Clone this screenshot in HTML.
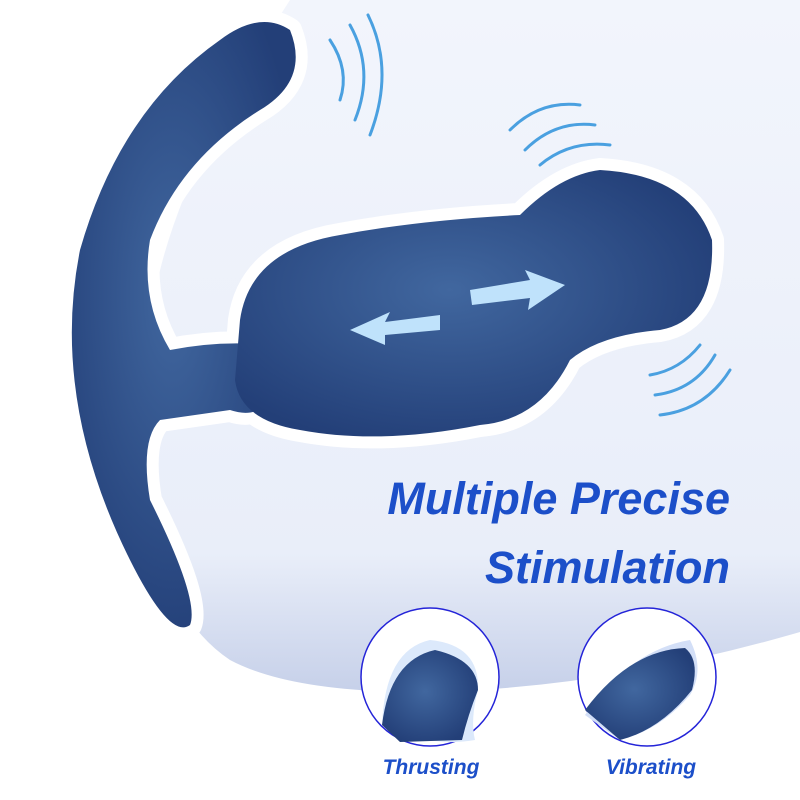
<!DOCTYPE html>
<html><head><style>
html,body{margin:0;padding:0;background:#fff}
svg{display:block}
text{font-family:"Liberation Sans",sans-serif;font-weight:bold;font-style:italic;fill:#1c4fc9}
</style></head><body>
<svg width="800" height="800" viewBox="0 0 800 800">
<defs>
<linearGradient id="bg" x1="0" y1="0" x2="0" y2="1"><stop offset="0" stop-color="#f2f5fc"/><stop offset="0.8" stop-color="#e9eef9"/><stop offset="1" stop-color="#c6d0e9"/></linearGradient>
<radialGradient id="dev" cx="0.45" cy="0.45" r="0.6"><stop offset="0" stop-color="#41679f"/><stop offset="1" stop-color="#233f78"/></radialGradient>
</defs>
<path d="M290 0 L800 0 L800 632 Q600 690 420 692 Q290 692 230 660 Q170 620 150 520 Q130 450 150 330 Q160 200 290 0 Z" fill="url(#bg)"/>
<g fill="#fff" stroke="#fff" stroke-width="24" stroke-linejoin="round">
<path d="M240 320 Q250 250 340 235 Q420 220 520 215 Q560 175 600 170 Q690 175 712 240 Q715 320 660 330 Q600 335 570 360 Q540 420 480 425 Q380 445 300 430 Q240 420 235 380 Z"/>
<path d="M290 30 Q260 10 220 40 Q120 110 80 250 Q50 400 130 560 Q170 640 190 625 Q200 600 150 500 Q140 440 160 420 L230 410 Q260 420 270 395 L270 345 Q220 340 170 350 Q140 300 150 240 Q180 160 260 110 Q310 80 290 30 Z"/>
</g>
<path d="M290 30 Q260 10 220 40 Q120 110 80 250 Q50 400 130 560 Q170 640 190 625 Q200 600 150 500 Q140 440 160 420 L230 410 Q260 420 270 395 L270 345 Q220 340 170 350 Q140 300 150 240 Q180 160 260 110 Q310 80 290 30 Z" fill="url(#dev)"/>
<path d="M240 320 Q250 250 340 235 Q420 220 520 215 Q560 175 600 170 Q690 175 712 240 Q715 320 660 330 Q600 335 570 360 Q540 420 480 425 Q380 445 300 430 Q240 420 235 380 Z" fill="url(#dev)"/>
<g fill="none" stroke="#4aa0e0" stroke-width="3" stroke-linecap="round">
<path d="M330 40 Q350 70 340 100"/><path d="M350 25 Q375 70 355 120"/><path d="M368 15 Q395 70 370 135"/>
<path d="M510 130 Q540 100 580 105"/><path d="M525 150 Q555 120 595 125"/><path d="M540 165 Q570 140 610 145"/>
<path d="M650 375 Q680 370 700 345"/><path d="M655 395 Q695 390 715 355"/><path d="M660 415 Q705 410 730 370"/>
</g>
<g fill="#bfe2fb"><polygon points="350,330 390,312 385,322 440,315 440,330 385,335 385,345"/><polygon points="565,285 525,270 530,280 470,290 472,305 530,298 528,310"/></g>
<text x="730" y="514" font-size="45" text-anchor="end">Multiple Precise</text>
<text x="730" y="583" font-size="45" text-anchor="end">Stimulation</text>
<circle cx="430" cy="677" r="69" fill="#fff" stroke="#2424d8" stroke-width="1.5"/>
<circle cx="647" cy="677" r="69" fill="#fff" stroke="#2424d8" stroke-width="1.5"/>
<path d="M382 725 Q385 650 430 640 Q480 645 478 690 Q470 720 475 740 Q430 748 382 725 Z" fill="#dce9fb"/>
<path d="M382 725 Q390 660 435 650 Q478 660 478 690 Q468 715 462 740 L400 742 Z" fill="url(#dev)"/>
<path d="M585 715 Q630 650 690 640 Q705 670 690 695 Q660 730 620 740 Z" fill="#d3dff7"/>
<path d="M585 710 Q630 650 685 648 Q700 660 692 690 Q660 730 620 740 Z" fill="url(#dev)"/>
<text x="431" y="774" font-size="21" text-anchor="middle">Thrusting</text>
<text x="651" y="774" font-size="21" text-anchor="middle">Vibrating</text>
</svg>
</body></html>
